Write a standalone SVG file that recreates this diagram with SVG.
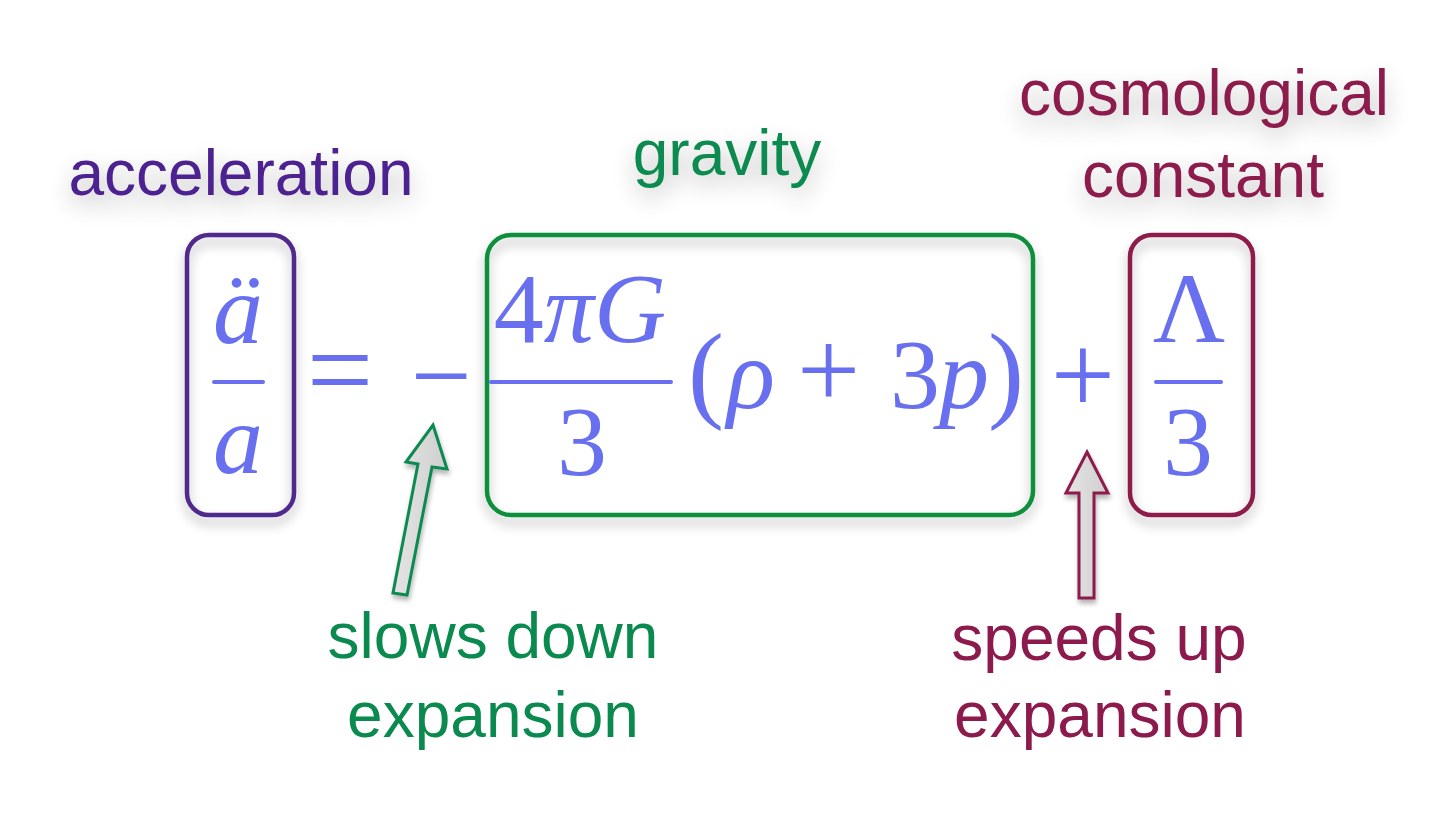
<svg xmlns="http://www.w3.org/2000/svg" width="1443" height="831" viewBox="0 0 1443 831">
<defs>
<filter id="boxsh" x="-30%" y="-20%" width="160%" height="140%">
<feGaussianBlur in="SourceAlpha" stdDeviation="6"/>
<feOffset dy="7" result="b"/>
<feComponentTransfer><feFuncA type="linear" slope="0.3"/></feComponentTransfer>
<feMerge><feMergeNode/><feMergeNode in="SourceGraphic"/></feMerge>
</filter>
<filter id="txtsh" x="-20%" y="-60%" width="140%" height="220%">
<feGaussianBlur in="SourceAlpha" stdDeviation="12"/>
<feOffset dy="10"/>
<feComponentTransfer><feFuncA type="linear" slope="0.28"/></feComponentTransfer>
<feMerge><feMergeNode/><feMergeNode in="SourceGraphic"/></feMerge>
</filter>
<filter id="arrsh" x="-50%" y="-20%" width="200%" height="140%">
<feGaussianBlur in="SourceAlpha" stdDeviation="2.5"/>
<feOffset dx="1" dy="4"/>
<feComponentTransfer><feFuncA type="linear" slope="0.3"/></feComponentTransfer>
<feMerge><feMergeNode/><feMergeNode in="SourceGraphic"/></feMerge>
</filter>
<linearGradient id="arrfill" x1="0" y1="0" x2="1" y2="0">
<stop offset="0" stop-color="#e4e4e4"/>
<stop offset="1" stop-color="#cfcfcf"/>
</linearGradient>
</defs>
<style>
.lbl{font-family:"Liberation Sans",Arial,sans-serif;font-size:64px;text-anchor:middle}
.purple{fill:#4c2290}
.green{fill:#0b8a4f}
.maroon{fill:#8c1a4c}
.box{fill:none;stroke-width:4.5}
.math{font-family:"Liberation Serif","Times New Roman",serif;fill:#6870f0;font-size:100px}
.it{font-style:italic}
.bar{stroke:#6870f0;stroke-width:4;stroke-linecap:round}
.op{font-family:"Liberation Serif","Times New Roman",serif;fill:#6870f0;text-anchor:middle}
</style>
<rect width="1443" height="831" fill="#ffffff"/>

<g id="acceleration">
<text class="lbl purple" x="241" y="195" filter="url(#txtsh)">acceleration</text>
<rect class="box" x="187" y="235" width="107" height="280" rx="22" stroke="#4f2a8c" filter="url(#boxsh)"/>
<text class="math it" x="238" y="343" text-anchor="middle">ä</text>
<line class="bar" x1="214" y1="382" x2="263" y2="382"/>
<text class="math it" x="238" y="473" text-anchor="middle">a</text>
</g>

<g id="operators">
<text class="op" x="340" y="410" font-size="118">=</text>
<text class="op" x="441" y="412" font-size="108">−</text>
<text class="op" x="1083" y="413" font-size="114">+</text>
</g>

<g id="gravity">
<text class="lbl green" x="727" y="175" filter="url(#txtsh)">gravity</text>
<rect class="box" x="487" y="235" width="546" height="280" rx="24" stroke="#0e8f3c" filter="url(#boxsh)"/>
<text class="math" x="580" y="342" text-anchor="middle">4<tspan class="it">πG</tspan></text>
<line class="bar" x1="491" y1="382" x2="671" y2="382"/>
<text class="math" x="582" y="475" text-anchor="middle">3</text>
<text class="math" y="408"><tspan x="688" font-size="108">(</tspan><tspan class="it" x="727">ρ</tspan><tspan x="797" font-size="112">+</tspan><tspan x="890">3</tspan><tspan class="it" x="939">p</tspan><tspan x="988" font-size="108">)</tspan></text>
</g>

<g id="cosmological-constant">
<text class="lbl maroon" x="1204" y="115" filter="url(#txtsh)">cosmological</text>
<text class="lbl maroon" x="1203" y="197" filter="url(#txtsh)">constant</text>
<rect class="box" x="1130" y="235" width="123" height="280" rx="22" stroke="#8e1a4c" filter="url(#boxsh)"/>
<text class="math" x="1189" y="342" text-anchor="middle">Λ</text>
<line class="bar" x1="1156" y1="382" x2="1221" y2="382"/>
<text class="math" x="1188" y="475" text-anchor="middle">3</text>
</g>

<g id="slows-down">
<text class="lbl green" x="493" y="658">slows down</text>
<text class="lbl green" x="493" y="737">expansion</text>
</g>

<g id="speeds-up">
<text class="lbl maroon" x="1099" y="660">speeds up</text>
<text class="lbl maroon" x="1100" y="737">expansion</text>
</g>

<g id="connectors">
<polygon points="433,425 447,469 432,467 407,595 393,593 418,464 406,462" fill="url(#arrfill)" stroke="#0b8a4f" stroke-width="3" stroke-linejoin="miter" filter="url(#arrsh)"/>
<polygon points="1087,452 1108,493 1094,493 1094,598 1079,598 1079,493 1066,493" fill="url(#arrfill)" stroke="#8c1a4c" stroke-width="3" stroke-linejoin="miter" filter="url(#arrsh)"/>
</g>
</svg>
